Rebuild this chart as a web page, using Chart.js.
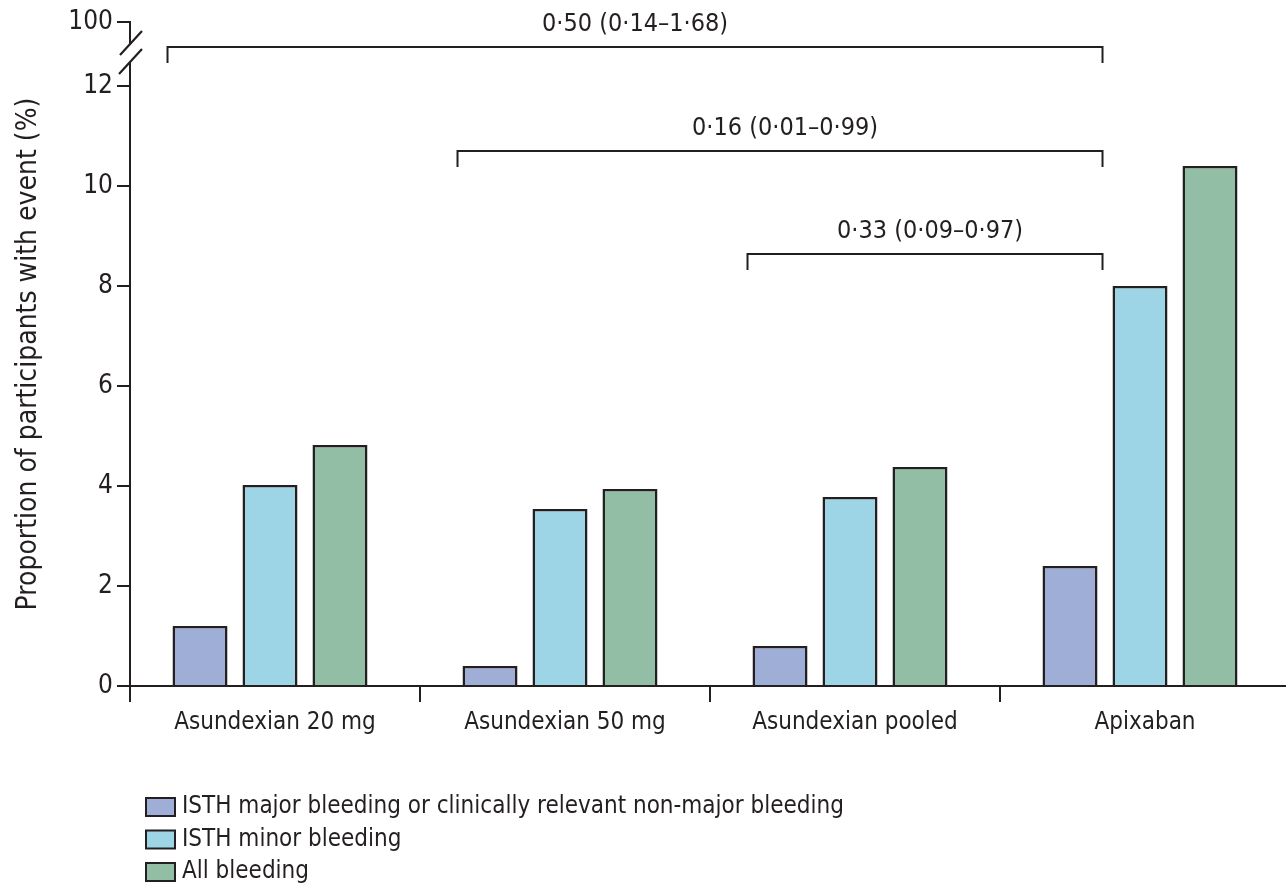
<!DOCTYPE html>
<html>
<head>
<meta charset="utf-8">
<script src="https://cdn.jsdelivr.net/npm/chart.js@4/dist/chart.umd.min.js"></script>
<style>
  html, body { margin: 0; padding: 0; background: #fff; overflow: hidden; }
  #wrap { width: 1290px; height: 888px; position: relative; }
</style>
</head>
<body>
<div id="wrap"><canvas id="c"></canvas></div>
<script>
// ---------- data ----------
const categories = ["Asundexian 20 mg", "Asundexian 50 mg", "Asundexian pooled", "Apixaban"];
const seriesLabels = [
    "ISTH major bleeding or clinically relevant non-major bleeding",
    "ISTH minor bleeding",
    "All bleeding"
];
const majorOrCrnm = [1.2, 0.4, 0.8, 2.4];
const minorBleeding = [4.02, 3.54, 3.78, 8.0];
const allBleeding = [4.82, 3.94, 4.38, 10.4];

const yTicks = [0, 2, 4, 6, 8, 10, 12];
const yBreakValue = 13.28;   // where the "100" tick sits above the axis break
const yBreakLabel = "100";

// comparison brackets (vs apixaban)
const bracketLabels = ["0·50 (0·14–1·68)", "0·16 (0·01–0·99)", "0·33 (0·09–0·97)"];
const bracketFrom = [0, 1, 2];
const bracketTo = [3, 3, 3];
const bracketLevel = [12.78, 10.7, 8.64];

// ---------- style ----------
const INK = "#231f20";
const FONT = "'DejaVu Sans Condensed', 'Liberation Sans', sans-serif";
const colors = ["#9eaed6", "#9dd5e6", "#92bea5"];
const BAR_SHIFT = -5; // bar groups sit a little left of the category centres

Chart.defaults.font.family = FONT;
Chart.defaults.color = INK;

// shift the bars only (labels and ticks stay put)
const barShift = {
    id: "barShift",
    beforeDatasetsDraw(chart) { chart.ctx.save(); chart.ctx.translate(BAR_SHIFT, 0); },
    afterDatasetsDraw(chart) { chart.ctx.restore(); }
};

// break marks, brackets and the legend
const overlay = {
    id: "overlay",
    afterDraw(chart) {
        const { ctx, chartArea: a, scales: { y } } = chart;
        ctx.save();

        // axis break
        const x0 = a.left;
        const yTop = y.getPixelForValue(yBreakValue);
        ctx.fillStyle = "#fff";
        ctx.fillRect(x0 - 3, yTop + 22, 6, 18);
        ctx.strokeStyle = INK;
        ctx.lineWidth = 2.2;
        ctx.beginPath();
        ctx.moveTo(x0 - 10, yTop + 33); ctx.lineTo(x0 + 12, yTop + 9);
        ctx.moveTo(x0 - 11, yTop + 52); ctx.lineTo(x0 + 12, yTop + 27);
        ctx.stroke();

        // brackets
        const m0 = chart.getDatasetMeta(0);
        ctx.lineWidth = 2;
        ctx.font = "25px " + FONT;
        ctx.fillStyle = INK;
        ctx.textAlign = "center";
        ctx.textBaseline = "middle";
        bracketLevel.forEach((lv, i) => {
            const b0 = m0.data[bracketFrom[i]], b1 = m0.data[bracketTo[i]];
            const xl = b0.x - b0.width / 2 - 10, xr = b1.x + b1.width / 2;
            const yy = y.getPixelForValue(lv);
            ctx.beginPath();
            ctx.moveTo(xl, yy + 16); ctx.lineTo(xl, yy); ctx.lineTo(xr, yy); ctx.lineTo(xr, yy + 16);
            ctx.stroke();
            ctx.fillText(bracketLabels[i], (xl + xr) / 2 + (i ? 5 : 0), yy - 23);
        });

        // legend
        const lx = a.left + 16, ly0 = a.bottom + 121;
        ctx.font = "24px " + FONT;
        ctx.textAlign = "left";
        chart.data.datasets.forEach((ds, i) => {
            const yy = ly0 + i * 32.5;
            ctx.fillStyle = ds.backgroundColor;
            ctx.fillRect(lx, yy - 9, 29, 18);
            ctx.strokeRect(lx, yy - 9, 29, 18);
            ctx.fillStyle = INK;
            ctx.fillText(ds.label, lx + 36, yy);
        });
        ctx.restore();
    }
};

new Chart(document.getElementById("c"), {
    type: "bar",
    data: {
        labels: categories,
        datasets: [majorOrCrnm, minorBleeding, allBleeding].map((d, i) => ({
            label: seriesLabels[i],
            data: d,
            backgroundColor: colors[i],
            borderColor: INK,
            borderWidth: 2.5,
            barPercentage: 0.786,
            categoryPercentage: 0.724
        }))
    },
    options: {
        responsive: true,
        maintainAspectRatio: false,
        animation: false,
        layout: { padding: { top: 22, right: 0, bottom: 0, left: 0 } },
        plugins: { legend: { display: false }, tooltip: { enabled: false } },
        scales: {
            x: {
                afterFit: s => { s.height = 202; },
                ticks: { font: { size: 24 }, color: INK, padding: 6 },
                grid: { offset: true, drawOnChartArea: false, drawTicks: true, tickLength: 16, color: INK, lineWidth: 2 },
                border: { display: true, color: INK, width: 2 }
            },
            y: {
                min: 0,
                max: yBreakValue,
                afterBuildTicks: s => { s.ticks = yTicks.concat([yBreakValue]).map(v => ({ value: v })); },
                afterFit: s => { s.width = 130; },
                ticks: {
                    callback: v => (v === yBreakValue ? yBreakLabel : v),
                    font: { size: 26 }, color: INK, padding: 4
                },
                grid: { drawOnChartArea: false, drawTicks: true, tickLength: 13, color: INK, lineWidth: 2 },
                border: { display: true, color: INK, width: 2 },
                title: {
                    display: true,
                    text: "Proportion of participants with event (%)",
                    font: { size: 28 }, color: INK,
                    padding: { top: 12, bottom: 0 }
                }
            }
        }
    },
    plugins: [barShift, overlay]
});
</script>
</body>
</html>
